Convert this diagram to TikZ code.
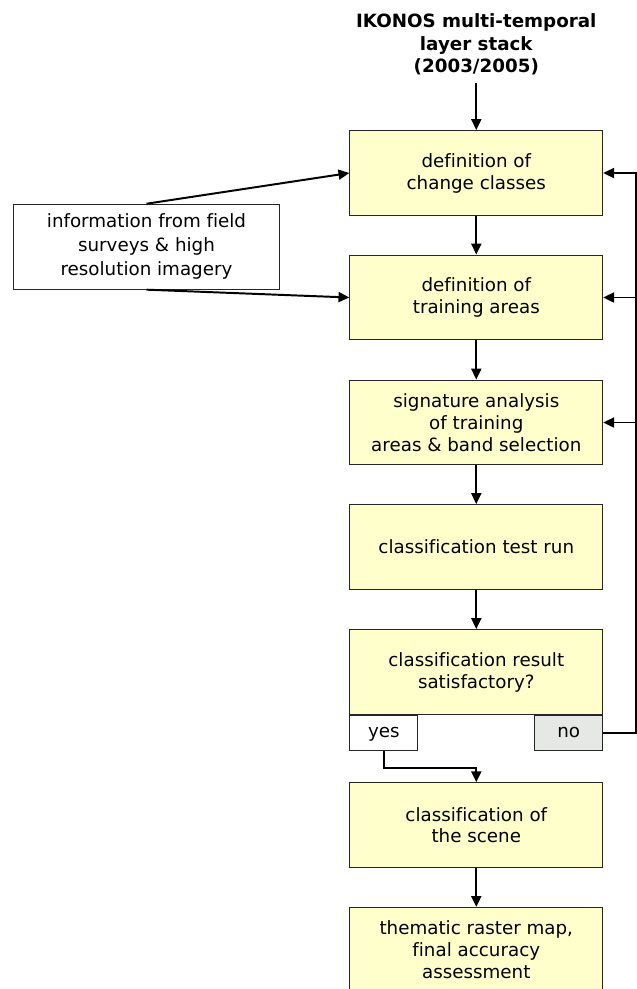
\documentclass[tikz,border=0pt]{standalone}
\usepackage{fontspec}
\setmainfont[Ligatures=NoCommon]{DejaVu Sans}
\usetikzlibrary{arrows.meta,positioning}

\definecolor{boxyellow}{RGB}{255,255,204}
\definecolor{nogrey}{RGB}{230,232,230}

\begin{document}
\begin{tikzpicture}[x=0.025cm,y=-0.025cm,>={Triangle[length=0.27cm,width=0.25cm]},line width=1.4pt]
    \tikzstyle{stepbox}=[rectangle,draw=black!85,line width=0.8pt,fill=boxyellow,minimum width=6.32cm,minimum height=2.12cm,inner sep=0pt,align=center,font=\fontsize{13}{15.6}\selectfont]
    \tikzstyle{infobox}=[stepbox,fill=white,minimum width=6.63cm,font=\fontsize{13}{17.2}\selectfont]
    \tikzstyle{answer}=[rectangle,draw=black!85,line width=0.8pt,minimum width=1.7cm,minimum height=0.875cm,inner sep=0pt,font=\fontsize{13}{15.6}\selectfont]

    \useasboundingbox (0,0) rectangle (637,989);
    \clip (0,0) rectangle (637,989);

    % Draw the input data.
    \node[align=center,inner sep=0pt,font=\bfseries\fontsize{13}{16.1}\selectfont] (title) at (476.3,44.5) {IKONOS multi-temporal\\layer stack\\(2003/2005)};

    % Draw the process steps.
    \node[stepbox] (classes) at (476.3,173) {definition of\\change classes};
    \node[stepbox] (training) at (476.3,297.5) {definition of\\training areas};
    \node[stepbox] (signature) at (476.3,422.5) {signature analysis\\of training\\areas \& band selection};
    \node[stepbox] (testrun) at (476.3,547) {classification test run};
    \node[stepbox] (result) at (476.3,672) {classification result\\satisfactory?};
    \node[stepbox] (scene) at (476.3,825.2) {classification of\\the scene};
    \node[stepbox] (map) at (476.3,949.8) {thematic raster map,\\final accuracy\\assessment};

    % Draw the side information and the answers.
    \node[infobox] (field) at (146.5,246.7) {information from field\\surveys \& high\\resolution imagery};
    \node[answer,fill=white,anchor=north west] (yes) at (result.south west) {\strut yes};
    \node[answer,fill=nogrey,anchor=north east] (no) at (result.south east) {\strut no};

    % Connect the steps.
    \draw[->] (title.south) ++(0,7) -- (classes.north);
    \foreach \source/\dest in {classes/training,training/signature,signature/testrun,testrun/result,scene/map}
        \draw[->] (\source) -- (\dest);
    \draw[->] (yes.south) -- ++(0,16.7) -| (scene.north);

    % Side information.
    \draw[->] (field.north) -- (classes.west);
    \draw[->] (field.south) -- (training.west);

    % Loop back when the result is not satisfactory.
    \foreach \dest in {classes,training,signature}
        \draw[->] (no.east) -- ++(33,0) |- (\dest.east);
\end{tikzpicture}
\end{document}
